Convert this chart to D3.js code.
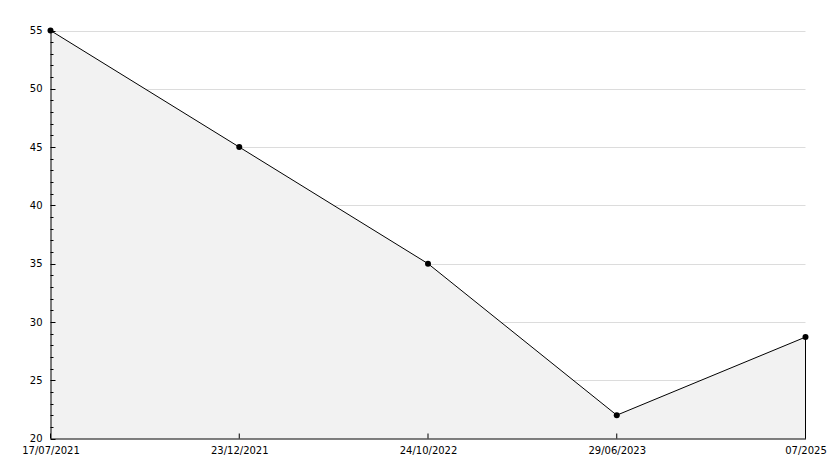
<!DOCTYPE html>
<html><head><meta charset="utf-8">
<script src="https://cdn.jsdelivr.net/npm/d3@7"></script>
<style>body{margin:0;background:#fff}svg{display:block}text{font-family:"DejaVu Sans",sans-serif;font-size:10px;fill:#000}</style>
</head><body>
<script>
const categories = ["17/07/2021","23/12/2021","24/10/2022","29/06/2023","07/2025"];
const values = [55, 45, 35, 22, 28.7];
const yTicks = [20,25,30,35,40,45,50,55];

const W=834,H=468, L=50.5, R=805.5, T=30.5, B=438.5;
const svg=d3.select("body").append("svg").attr("width",W).attr("height",H);
const x=d3.scalePoint().domain(categories).range([L,R]);
const y=d3.scaleLinear().domain([20,55]).range([B,T]);

// grid
svg.append("g").selectAll("line").data(yTicks.slice(1)).join("line")
  .attr("x1",L).attr("x2",R).attr("y1",d=>Math.round(y(d))+0.5).attr("y2",d=>Math.round(y(d))+0.5)
  .attr("stroke","#dcdcdc");

// area
const area=d3.area().x(d=>x(d.c)).y0(B).y1(d=>y(d.v));
const data=categories.map((c,i)=>({c,v:values[i]}));
svg.append("path").datum(data).attr("d",area).attr("fill","#f2f2f2");
svg.append("path").datum(data).attr("d",d3.line().x(d=>x(d.c)).y(d=>y(d.v))).attr("fill","none").attr("stroke","#000").attr("stroke-width",1);
// right edge
svg.append("line").attr("x1",R).attr("x2",R).attr("y1",y(values[values.length-1])).attr("y2",B).attr("stroke","#000");

// y axis
const minor=d3.range(20,56,1).filter(v=>!yTicks.includes(v));
const yAx=svg.append("g").attr("transform",`translate(${L},0)`)
  .call(d3.axisLeft(y).tickValues(yTicks).tickSize(0).tickPadding(8));
yAx.select(".domain").attr("stroke","#000");
yAx.selectAll("text").style("font-family","DejaVu Sans").style("font-size","10px");
svg.append("g").selectAll("line").data(yTicks).join("line")
  .attr("x1",L).attr("x2",L+5).attr("y1",d=>Math.round(y(d))+0.5).attr("y2",d=>Math.round(y(d))+0.5).attr("stroke","#000");
svg.append("g").selectAll("line").data(minor).join("line")
  .attr("x1",L).attr("x2",L+3).attr("y1",d=>Math.round(y(d))+0.5).attr("y2",d=>Math.round(y(d))+0.5).attr("stroke","#000");

// x axis
const xAx=svg.append("g").attr("transform",`translate(0,${B})`)
  .call(d3.axisBottom(x).tickSize(0).tickPadding(8));
xAx.select(".domain").attr("stroke","#000");
xAx.selectAll("text").style("font-family","DejaVu Sans").style("font-size","10px");
svg.append("g").selectAll("line").data(categories).join("line")
  .attr("x1",d=>x(d)).attr("x2",d=>x(d)).attr("y1",B).attr("y2",B-5).attr("stroke","#000");

// markers
svg.append("g").selectAll("circle").data(data).join("circle")
  .attr("cx",d=>x(d.c)).attr("cy",d=>y(d.v)).attr("r",3).attr("fill","#000");
</script>
</body></html>
